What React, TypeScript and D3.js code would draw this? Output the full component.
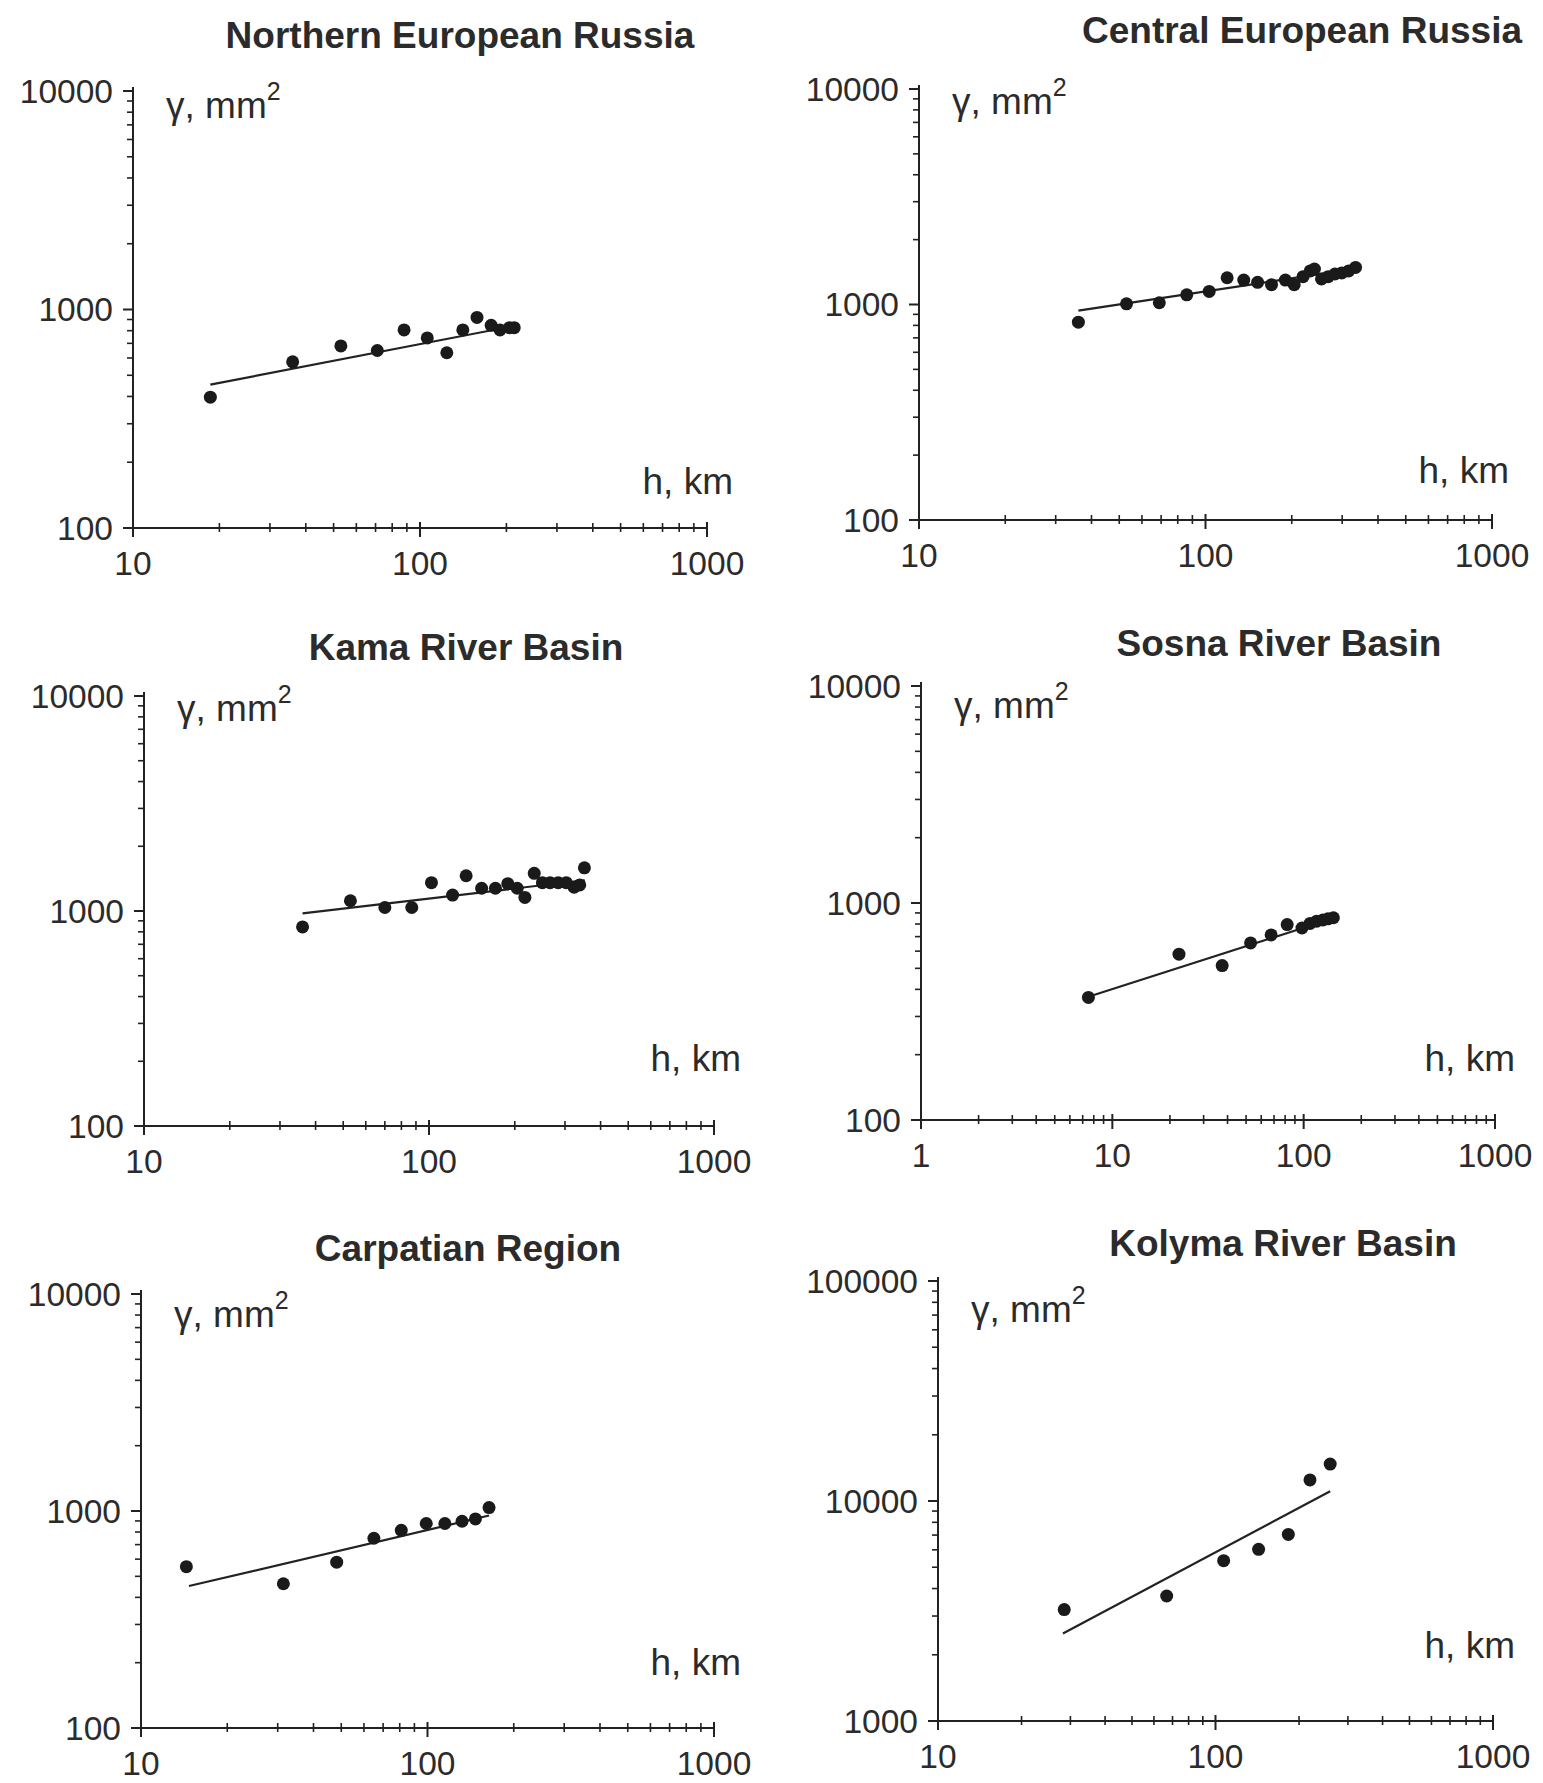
import React from "react";
import * as d3 from "d3";

// ---- data (h in km, gamma in mm^2) ----
const nerH = [18.6, 36, 53, 71, 88, 106, 124, 141, 158, 177, 190, 205, 213];
const nerG = [397, 576, 681, 649, 806, 741, 634, 806, 920, 846, 806, 826, 826];
const nerFitH = [18.6, 218];
const nerFitG = [453, 846];

const cerH = [36, 53, 69, 86, 103, 119, 136, 152, 170, 190, 204, 219, 232, 240, 254, 268, 283, 299, 316, 334];
const cerG = [828, 1007, 1019, 1109, 1150, 1331, 1298, 1267, 1236, 1298, 1236, 1346, 1432, 1460, 1314, 1346, 1385, 1402, 1432, 1486];
const cerFitH = [36, 334];
const cerFitG = [936, 1466];

const kamaH = [36, 53, 70, 87, 102, 121, 135, 153, 171, 189, 204, 217, 234, 250, 266, 284, 303, 323, 338, 351];
const kamaG = [843, 1116, 1038, 1038, 1355, 1186, 1459, 1276, 1276, 1340, 1276, 1156, 1497, 1355, 1355, 1355, 1355, 1290, 1322, 1588];
const kamaFitH = [36, 352];
const kamaFitG = [975, 1390];

const sosnaH = [7.5, 22.3, 37.5, 52.8, 67.6, 82, 98, 108, 117, 126, 134, 143];
const sosnaG = [367, 581, 515, 655, 713, 795, 767, 805, 825, 835, 845, 855];
const sosnaFitH = [7.5, 143];
const sosnaFitG = [370, 850];

const carpH = [14.4, 31.4, 48.2, 65, 81, 99, 115, 132, 147, 164];
const carpG = [554, 462, 581, 749, 815, 876, 876, 897, 919, 1037];
const carpFitH = [14.7, 164];
const carpFitG = [451, 953];

const kolH = [28.5, 66.7, 107, 143, 183, 219, 259];
const kolG = [3209, 3700, 5355, 6030, 7045, 12470, 14720];
const kolFitH = [28.2, 259];
const kolFitG = [2500, 11070];

const titles = [
  "Northern European Russia",
  "Central European Russia",
  "Kama River Basin",
  "Sosna River Basin",
  "Carpatian Region",
  "Kolyma River Basin",
];
const yLabel = "γ, mm";
const xLabel = "h, km";

// ---- layout (pixel geometry per panel) ----
const panels = [
  { title: titles[0], h: nerH, g: nerG, fh: nerFitH, fg: nerFitG, xd: [10, 1000], yd: [100, 10000], x0: 133, x1: 707, yT: 91, yB: 528, tx: 460, ty: 35, ylx: 33, yly: 14, xlx: 26, xly: -47 },
  { title: titles[1], h: cerH, g: cerG, fh: cerFitH, fg: cerFitG, xd: [10, 1000], yd: [100, 10000], x0: 919, x1: 1492, yT: 89, yB: 520, tx: 1302, ty: 30, ylx: 33, yly: 12, xlx: 17, xly: -50 },
  { title: titles[2], h: kamaH, g: kamaG, fh: kamaFitH, fg: kamaFitG, xd: [10, 1000], yd: [100, 10000], x0: 144, x1: 714, yT: 696, yB: 1126, tx: 466, ty: 647, ylx: 33, yly: 12, xlx: 27, xly: -68 },
  { title: titles[3], h: sosnaH, g: sosnaG, fh: sosnaFitH, fg: sosnaFitG, xd: [1, 1000], yd: [100, 10000], x0: 921, x1: 1495, yT: 686, yB: 1120, tx: 1279, ty: 643, ylx: 33, yly: 19, xlx: 20, xly: -62 },
  { title: titles[4], h: carpH, g: carpG, fh: carpFitH, fg: carpFitG, xd: [10, 1000], yd: [100, 10000], x0: 141, x1: 714, yT: 1294, yB: 1728, tx: 468, ty: 1248, ylx: 33, yly: 20, xlx: 27, xly: -66 },
  { title: titles[5], h: kolH, g: kolG, fh: kolFitH, fg: kolFitG, xd: [10, 1000], yd: [1000, 100000], x0: 938, x1: 1493, yT: 1281, yB: 1721, tx: 1283, ty: 1243, ylx: 33, yly: 28, xlx: 22, xly: -76 },
];

const INK = "#222";
const TXT = "#2b2b2b";
const FONT = "'Liberation Sans', Arial, Helvetica, sans-serif";

function logTicks(lo: number, hi: number) {
  const major: number[] = [];
  const minor: number[] = [];
  for (let d = lo; d < hi; d *= 10) {
    major.push(d);
    for (let k = 2; k <= 9; k++) minor.push(d * k);
  }
  major.push(hi);
  return { major, minor };
}

function Panel({ p }: { p: any }) {
  const x = d3.scaleLog().domain(p.xd).range([p.x0, p.x1]);
  const y = d3.scaleLog().domain(p.yd).range([p.yB, p.yT]);
  const xt = logTicks(p.xd[0], p.xd[1]);
  const yt = logTicks(p.yd[0], p.yd[1]);
  const line = d3.line<number>().x((_, i) => x(p.fh[i])).y((_, i) => y(p.fg[i]));
  const fmt = (v: number) => String(Math.round(v));
  return (
    <g>
      <text x={p.tx} y={p.ty} textAnchor="middle" dominantBaseline="central" fontFamily={FONT} fontWeight="bold" fontSize={37} fill={TXT}>
        {p.title}
      </text>
      {/* axes */}
      <line x1={p.x0} x2={p.x0} y1={p.yT - 4} y2={p.yB} stroke={INK} strokeWidth={2} />
      <line x1={p.x0 - 8} x2={p.x1} y1={p.yB} y2={p.yB} stroke={INK} strokeWidth={2} />
      {yt.minor.map((v, i) => (
        <line key={"ym" + i} x1={p.x0 - 6} x2={p.x0 + 1} y1={y(v)} y2={y(v)} stroke={INK} strokeWidth={1.6} />
      ))}
      {yt.major.map((v, i) => (
        <g key={"yM" + i}>
          <line x1={p.x0 - 10} x2={p.x0} y1={y(v)} y2={y(v)} stroke={INK} strokeWidth={2} />
          <text x={p.x0 - 20} y={y(v)} textAnchor="end" dominantBaseline="central" fontFamily={FONT} fontSize={33.5} fill={TXT}>
            {fmt(v)}
          </text>
        </g>
      ))}
      {xt.minor.map((v, i) => (
        <line key={"xm" + i} x1={x(v)} x2={x(v)} y1={p.yB - 5} y2={p.yB + 4} stroke={INK} strokeWidth={1.6} />
      ))}
      {xt.major.map((v, i) => (
        <g key={"xM" + i}>
          <line x1={x(v)} x2={x(v)} y1={p.yB - 6} y2={p.yB + 9} stroke={INK} strokeWidth={2} />
          <text x={x(v)} y={p.yB + 35} textAnchor="middle" dominantBaseline="central" fontFamily={FONT} fontSize={33.5} fill={TXT}>
            {fmt(v)}
          </text>
        </g>
      ))}
      {/* axis labels */}
      <text x={p.x0 + p.ylx} y={p.yT + p.yly} dominantBaseline="central" fontFamily={FONT} fontSize={37} fill={TXT}>
        {yLabel}
        <tspan fontSize={25} dy={-14}>2</tspan>
      </text>
      <text x={p.x1 + p.xlx} y={p.yB + p.xly} textAnchor="end" dominantBaseline="central" fontFamily={FONT} fontSize={37} fill={TXT}>
        {xLabel}
      </text>
      {/* fit line */}
      <path d={line(p.fh) || ""} fill="none" stroke={INK} strokeWidth={2.2} />
      {/* points */}
      {p.h.map((hv: number, i: number) => (
        <circle key={"pt" + i} cx={x(hv)} cy={y(p.g[i])} r={6.5} fill="#1a1a1a" />
      ))}
    </g>
  );
}

export default function App() {
  return (
    <svg width={1543} height={1783} viewBox="0 0 1543 1783" style={{ position: "absolute", left: 0, top: 0, background: "#fff" }}>
      <rect x={0} y={0} width={1543} height={1783} fill="#fff" />
      {panels.map((p, i) => (
        <Panel key={i} p={p} />
      ))}
    </svg>
  );
}
